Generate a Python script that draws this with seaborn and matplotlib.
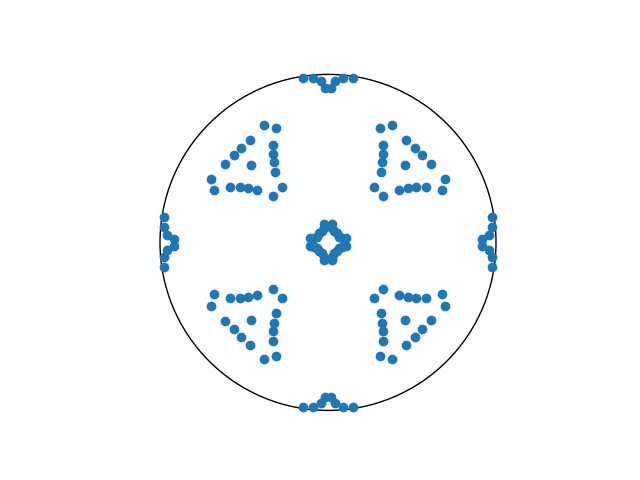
import matplotlib
matplotlib.use("Agg")
import matplotlib.pyplot as plt
import seaborn as sns
import pandas as pd

# ---- data (unit-circle coordinates) ----
top_x = [-0.149, -0.089, -0.044, -0.020, 0.020, 0.044, 0.089, 0.149]
top_y = [0.980, 0.980, 0.958, 0.918, 0.918, 0.958, 0.980, 0.980]

bottom_x = [-0.149, -0.089, -0.044, -0.020, 0.020, 0.044, 0.089, 0.149]
bottom_y = [-0.978, -0.978, -0.958, -0.918, -0.918, -0.958, -0.978, -0.978]

left_x = [-0.978, -0.978, -0.958, -0.918, -0.918, -0.958, -0.978, -0.978]
left_y = [0.149, 0.089, 0.044, 0.020, -0.020, -0.044, -0.089, -0.149]

right_x = [0.978, 0.978, 0.958, 0.918, 0.918, 0.958, 0.978, 0.978]
right_y = [0.149, 0.089, 0.044, 0.020, -0.020, -0.044, -0.089, -0.149]

center_x = [-0.024, 0.024, -0.026, 0.026, -0.033, 0.033,
            0.107, 0.107, 0.086, 0.086, 0.066, 0.066,
            -0.024, 0.024, -0.026, 0.026, -0.033, 0.033,
            -0.107, -0.107, -0.086, -0.086, -0.066, -0.066,
            0.054, 0.054, -0.054, -0.054]
center_y = [0.107, 0.107, 0.086, 0.086, 0.066, 0.066,
            0.024, -0.024, 0.026, -0.026, 0.033, -0.033,
            -0.107, -0.107, -0.086, -0.086, -0.066, -0.066,
            0.024, -0.024, 0.026, -0.026, 0.033, -0.033,
            0.054, -0.054, 0.054, -0.054]

top_left_x = [-0.379, -0.308, -0.463, -0.516, -0.560, -0.611, -0.326, -0.326, -0.321, -0.458,
              -0.314, -0.695, -0.677, -0.583, -0.524, -0.474, -0.421, -0.272, -0.326]
top_left_y = [0.699, 0.679, 0.608, 0.564, 0.520, 0.467, 0.580, 0.526, 0.477, 0.461,
              0.417, 0.376, 0.312, 0.328, 0.328, 0.322, 0.312, 0.328, 0.274]

top_right_x = [0.311, 0.381, 0.466, 0.520, 0.560, 0.613, 0.329, 0.329, 0.321, 0.460,
               0.315, 0.698, 0.680, 0.585, 0.526, 0.476, 0.423, 0.274, 0.329]
top_right_y = [0.679, 0.699, 0.608, 0.562, 0.518, 0.467, 0.582, 0.526, 0.477, 0.461,
               0.419, 0.376, 0.312, 0.328, 0.328, 0.322, 0.312, 0.328, 0.274]

bottom_left_x = [-0.677, -0.695, -0.583, -0.524, -0.474, -0.421, -0.326, -0.272, -0.611, -0.457,
                 -0.311, -0.320, -0.326, -0.326, -0.560, -0.516, -0.463, -0.379, -0.308]
bottom_left_y = [-0.307, -0.379, -0.333, -0.333, -0.327, -0.313, -0.279, -0.333, -0.466, -0.464,
                 -0.422, -0.482, -0.527, -0.585, -0.517, -0.565, -0.611, -0.696, -0.676]

bottom_right_x = [0.274, 0.329, 0.423, 0.476, 0.526, 0.585, 0.680, 0.698, 0.315, 0.321,
                  0.329, 0.329, 0.460, 0.613, 0.560, 0.520, 0.466, 0.311, 0.381]
bottom_right_y = [-0.333, -0.279, -0.313, -0.327, -0.333, -0.333, -0.307, -0.379, -0.422, -0.482,
                  -0.527, -0.585, -0.464, -0.464, -0.517, -0.565, -0.611, -0.676, -0.696]

xs = (top_x + bottom_x + left_x + right_x + center_x + top_left_x + top_right_x
      + bottom_left_x + bottom_right_x)
ys = (top_y + bottom_y + left_y + right_y + center_y + top_left_y + top_right_y
      + bottom_left_y + bottom_right_y)
df = pd.DataFrame({"x": xs, "y": ys})

fig, ax = plt.subplots(figsize=(6.4, 4.8), dpi=100)
circle = plt.Circle((0, 0), 1.0, fill=False, edgecolor="black", linewidth=1)
ax.add_patch(circle)
sns.scatterplot(data=df, x="x", y="y", ax=ax, s=36, color="#1f77b4",
                edgecolor="#1f77b4", linewidth=1, legend=False)
ax.set_xlim(-1.1, 1.1)
ax.set_ylim(-1.1, 1.1)
ax.set_aspect("equal")
ax.axis("off")
fig.savefig("out.png", dpi=100)
